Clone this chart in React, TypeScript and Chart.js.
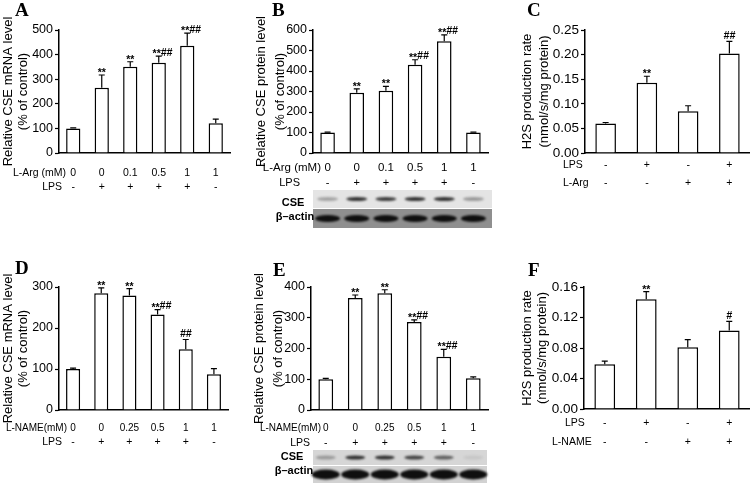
import React, { useEffect, useRef } from 'react';
import { Chart, registerables } from 'chart.js';
Chart.register(...registerables);

const FONT = "'Liberation Sans', Arial, sans-serif";
const SERIF = "'Liberation Serif', 'Times New Roman', serif";
Chart.defaults.font.family = FONT;
Chart.defaults.color = '#000';

// ---------- Panel A: CSE mRNA, L-Arg ----------
const aDose = ['0', '0', '0.1', '0.5', '1', '1'];
const aLps = ['-', '+', '+', '+', '+', '-'];
const aValues = [100, 265, 351, 367, 436, 121];
const aErrors = [2, 52, 20, 27, 51, 17];
const aStars = ['', '**', '**', '**', '**', ''];
const aHashes = ['', '', '', '##', '##', ''];

// ---------- Panel B: CSE protein, L-Arg ----------
const bDose = ['0', '0', '0.1', '0.5', '1', '1'];
const bLps = ['-', '+', '+', '+', '+', '-'];
const bValues = [100, 294, 304, 430, 545, 100];
const bErrors = [2, 19, 21, 25, 31, 2];
const bStars = ['', '**', '**', '**', '**', ''];
const bHashes = ['', '', '', '##', '##', ''];
const bCseBand = [0.3, 0.85, 0.8, 0.85, 0.85, 0.35];
const bActinBand = [1, 1, 1, 1, 1, 1];

// ---------- Panel C: H2S production, L-Arg ----------
const cLps = ['-', '+', '-', '+'];
const cLArg = ['-', '-', '+', '+'];
const cValues = [0.06, 0.143, 0.085, 0.202];
const cErrors = [0.002, 0.013, 0.011, 0.025];
const cStars = ['', '**', '', ''];
const cHashes = ['', '', '', '##'];

// ---------- Panel D: CSE mRNA, L-NAME ----------
const dDose = ['0', '0', '0.25', '0.5', '1', '1'];
const dLps = ['-', '+', '+', '+', '+', '-'];
const dValues = [100, 285, 279, 233, 148, 87];
const dErrors = [2, 13, 17, 12, 24, 14];
const dStars = ['', '**', '**', '**', '', ''];
const dHashes = ['', '', '', '##', '##', ''];

// ---------- Panel E: CSE protein, L-NAME ----------
const eDose = ['0', '0', '0.25', '0.5', '1', '1'];
const eLps = ['-', '+', '+', '+', '+', '-'];
const eValues = [100, 364, 380, 286, 173, 103];
const eErrors = [3, 10, 11, 7, 24, 5];
const eStars = ['', '**', '**', '**', '**', ''];
const eHashes = ['', '', '', '##', '##', ''];
const eCseBand = [0.3, 0.85, 0.85, 0.75, 0.6, 0.08];
const eActinBand = [1, 1, 1, 1, 1, 1];

// ---------- Panel F: H2S production, L-NAME ----------
const fLps = ['-', '+', '-', '+'];
const fLName = ['-', '-', '+', '+'];
const fValues = [0.0587, 0.144, 0.081, 0.103];
const fErrors = [0.004, 0.01, 0.01, 0.012];
const fStars = ['', '**', '', ''];
const fHashes = ['', '', '', '#'];

interface Row { header: string; values: string[]; y: number; hx: number; align: CanvasTextAlign; size: number }
interface Blot {
  x0: number; x1: number; cseY: number; cseH: number; actY: number; actH: number;
  cseBg: string; actBg: string; cseLabel: [number, number]; actLabel: [number, number];
  cse: number[]; actin: number[]; cseBandW: number; cseBandH: number; actBandW: number; actBandH: number;
}
interface Panel {
  letter: string; letterPos: [number, number];
  left: number; top: number; w: number; h: number;
  area: { l: number; t: number; r: number; b: number };
  categories: string[]; values: number[]; errors: number[]; stars: string[]; hashes: string[];
  max: number; step: number; decimals: number; tickSize: number;
  title: string[]; titleLH: number; titlePad: number;
  rows: Row[]; blot?: Blot;
}

const panels: Panel[] = [
  {
    letter: 'A', letterPos: [15, 16], left: 0, top: 0, w: 250, h: 246,
    area: { l: 59, t: 30, r: 230, b: 153 },
    categories: aDose, values: aValues, errors: aErrors, stars: aStars, hashes: aHashes,
    max: 500, step: 100, decimals: 0, tickSize: 12.5,
    title: ['Relative CSE mRNA level', '(% of control)'], titleLH: 15, titlePad: 0.5,
    rows: [
      { header: 'L-Arg (mM)', values: aDose, y: 173, hx: 66, align: 'right', size: 10.5 },
      { header: 'LPS', values: aLps, y: 187, hx: 62, align: 'right', size: 10.5 },
    ],
  },
  {
    letter: 'B', letterPos: [22, 16], left: 250, top: 0, w: 250, h: 246,
    area: { l: 63, t: 30, r: 238, b: 153 },
    categories: bDose, values: bValues, errors: bErrors, stars: bStars, hashes: bHashes,
    max: 600, step: 100, decimals: 0, tickSize: 12.5,
    title: ['Relative CSE protein level', '(% of control)'], titleLH: 19, titlePad: 1.5,
    rows: [
      { header: 'L-Arg (mM)', values: bDose, y: 168, hx: 71, align: 'right', size: 11.5 },
      { header: 'LPS', values: bLps, y: 183, hx: 50, align: 'right', size: 11 },
    ],
    blot: {
      x0: 63, x1: 242, cseY: 190, cseH: 18, actY: 209, actH: 19,
      cseBg: '#e4e4e4', actBg: '#8f8f8f', cseLabel: [43, 203], actLabel: [45, 217],
      cse: bCseBand, actin: bActinBand, cseBandW: 21, cseBandH: 4, actBandW: 25, actBandH: 7,
    },
  },
  {
    letter: 'C', letterPos: [27, 16], left: 500, top: 0, w: 250, h: 246,
    area: { l: 85, t: 30, r: 250, b: 153 },
    categories: cLps, values: cValues, errors: cErrors, stars: cStars, hashes: cHashes,
    max: 0.25, step: 0.05, decimals: 2, tickSize: 13.5,
    title: ['H2S production rate', '(nmol/s/mg protein)'], titleLH: 17, titlePad: 18.5,
    rows: [
      { header: 'LPS', values: cLps, y: 165, hx: 63, align: 'left', size: 10.5 },
      { header: 'L-Arg', values: cLArg, y: 183, hx: 63, align: 'left', size: 10.5 },
    ],
  },
  {
    letter: 'D', letterPos: [15, 274], left: 0, top: 246, w: 250, h: 246,
    area: { l: 59, t: 41, r: 228, b: 164 },
    categories: dDose, values: dValues, errors: dErrors, stars: dStars, hashes: dHashes,
    max: 300, step: 100, decimals: 0, tickSize: 12.5,
    title: ['Relative CSE mRNA level', '(% of control)'], titleLH: 15, titlePad: 0.5,
    rows: [
      { header: 'L-NAME(mM)', values: dDose, y: 182, hx: 67, align: 'right', size: 10 },
      { header: 'LPS', values: dLps, y: 196, hx: 62, align: 'right', size: 10.5 },
    ],
  },
  {
    letter: 'E', letterPos: [23, 276], left: 250, top: 246, w: 250, h: 246,
    area: { l: 61, t: 41, r: 238, b: 164 },
    categories: eDose, values: eValues, errors: eErrors, stars: eStars, hashes: eHashes,
    max: 400, step: 100, decimals: 0, tickSize: 12.5,
    title: ['Relative CSE protein level', '(% of control)'], titleLH: 19, titlePad: 0,
    rows: [
      { header: 'L-NAME(mM)', values: eDose, y: 182, hx: 71, align: 'right', size: 10 },
      { header: 'LPS', values: eLps, y: 197, hx: 60, align: 'right', size: 10.5 },
    ],
    blot: {
      x0: 63, x1: 237, cseY: 204, cseH: 15, actY: 220, actH: 17,
      cseBg: '#d6d6d6', actBg: '#d2d2d2', cseLabel: [42, 211], actLabel: [44, 225],
      cse: eCseBand, actin: eActinBand, cseBandW: 20, cseBandH: 4, actBandW: 28, actBandH: 10,
    },
  },
  {
    letter: 'F', letterPos: [28, 276], left: 500, top: 246, w: 250, h: 246,
    area: { l: 84, t: 41, r: 250, b: 163 },
    categories: fLps, values: fValues, errors: fErrors, stars: fStars, hashes: fHashes,
    max: 0.16, step: 0.04, decimals: 2, tickSize: 13.5,
    title: ['H2S production rate', '(nmol/s/mg protein)'], titleLH: 15, titlePad: 19.5,
    rows: [
      { header: 'LPS', values: fLps, y: 177, hx: 65, align: 'left', size: 10.5 },
      { header: 'L-NAME', values: fLName, y: 196, hx: 52, align: 'left', size: 10.5 },
    ],
  },
];

function makeDecor(p: Panel) {
  return {
    id: 'decor' + p.letter,
    afterDatasetsDraw(chart: any) {
      const ctx: CanvasRenderingContext2D = chart.ctx;
      const meta = chart.getDatasetMeta(0);
      const ys = chart.scales.y;
      const xs = chart.scales.x;
      ctx.save();
      ctx.strokeStyle = '#000';
      ctx.fillStyle = '#000';
      ctx.lineWidth = 1.2;
      p.values.forEach((v, i) => {
        const cx = meta.data[i].x;
        const top = ys.getPixelForValue(v);
        const et = ys.getPixelForValue(v + p.errors[i]);
        ctx.beginPath();
        ctx.moveTo(cx, top);
        ctx.lineTo(cx, et);
        ctx.moveTo(cx - 3, et);
        ctx.lineTo(cx + 3, et);
        ctx.stroke();
        const s = p.stars[i];
        const hsh = p.hashes[i];
        ctx.textBaseline = 'alphabetic';
        if (s && hsh) {
          ctx.font = `bold 10.5px ${FONT}`;
          ctx.textAlign = 'right';
          ctx.fillText(s, cx + 2, et + 1);
          ctx.font = `italic bold 10.5px ${FONT}`;
          ctx.textAlign = 'left';
          ctx.fillText(hsh, cx + 2, et - 0.5);
        } else if (s) {
          ctx.font = `bold 10.5px ${FONT}`;
          ctx.textAlign = 'center';
          ctx.fillText(s, cx, et + 1);
        } else if (hsh) {
          ctx.font = `italic bold 10.5px ${FONT}`;
          ctx.textAlign = 'center';
          ctx.fillText(hsh, cx, et - 2);
        }
      });
      // rows of condition labels
      p.rows.forEach((r) => {
        ctx.font = `${r.size}px ${FONT}`;
        ctx.textBaseline = 'middle';
        ctx.textAlign = r.align;
        ctx.fillText(r.header, r.hx, r.y);
        ctx.textAlign = 'center';
        r.values.forEach((t, i) => {
          ctx.fillText(t, xs.getPixelForValue(i), r.y);
        });
      });
      // panel letter
      ctx.font = `bold 19px ${SERIF}`;
      ctx.textAlign = 'left';
      ctx.textBaseline = 'alphabetic';
      ctx.fillText(p.letter, p.letterPos[0], p.letterPos[1] - p.top);
      // western blot
      const b = p.blot;
      if (b) {
        ctx.fillStyle = b.cseBg;
        ctx.fillRect(b.x0, b.cseY, b.x1 - b.x0, b.cseH);
        ctx.fillStyle = b.actBg;
        ctx.fillRect(b.x0, b.actY, b.x1 - b.x0, b.actH);
        ctx.filter = 'blur(0.8px)';
        b.cse.forEach((k, i) => {
          const cx = xs.getPixelForValue(i);
          ctx.fillStyle = `rgba(20,20,20,${k})`;
          ctx.beginPath();
          ctx.ellipse(cx, b.cseY + b.cseH / 2, b.cseBandW / 2, b.cseBandH / 2, 0, 0, Math.PI * 2);
          ctx.fill();
        });
        b.actin.forEach((k, i) => {
          const cx = xs.getPixelForValue(i);
          ctx.fillStyle = `rgba(15,15,15,${k})`;
          ctx.beginPath();
          ctx.ellipse(cx, b.actY + b.actH / 2, b.actBandW / 2, b.actBandH / 2, 0, 0, Math.PI * 2);
          ctx.fill();
        });
        ctx.filter = 'none';
        ctx.fillStyle = '#000';
        ctx.font = `bold 11px ${FONT}`;
        ctx.textAlign = 'center';
        ctx.textBaseline = 'middle';
        ctx.fillText('CSE', b.cseLabel[0], b.cseLabel[1]);
        ctx.fillText('β–actin', b.actLabel[0], b.actLabel[1]);
      }
      ctx.restore();
    },
  };
}

function PanelChart({ p }: { p: Panel }) {
  const ref = useRef<HTMLCanvasElement>(null);
  useEffect(() => {
    const canvas = ref.current!;
    const chart = new Chart(canvas, {
      type: 'bar',
      data: {
        labels: p.categories,
        datasets: [{
          data: p.values,
          backgroundColor: '#ffffff',
          borderColor: '#000000',
          borderWidth: 1.5,
          categoryPercentage: 1,
          barPercentage: 0.5,
        }],
      },
      options: {
        responsive: false,
        maintainAspectRatio: false,
        animation: false,
        devicePixelRatio: 1,
        layout: { padding: { left: 0, top: p.area.t, right: p.w - p.area.r, bottom: 0 } },
        plugins: { legend: { display: false }, tooltip: { enabled: false } },
        scales: {
          x: {
            type: 'category',
            offset: true,
            grid: { display: false },
            ticks: { display: false },
            border: { display: true, color: '#000', width: 1.5 },
            afterFit: (s: any) => { s.height = p.h - p.area.b; },
          },
          y: {
            min: 0,
            max: p.max,
            ticks: {
              stepSize: p.step,
              color: '#000',
              font: { size: p.tickSize, family: FONT },
              padding: 2,
              callback: (v: any) => Number(v).toFixed(p.decimals),
            },
            grid: { display: true, drawOnChartArea: false, drawTicks: true, tickLength: 4, tickColor: '#000', tickWidth: 1.2, color: '#000' },
            border: { display: true, color: '#000', width: 1.5 },
            title: {
              display: true,
              text: p.title,
              color: '#000',
              font: { size: 13, family: FONT, lineHeight: p.titleLH / 13 },
              padding: { top: p.titlePad, bottom: 0 },
            },
            afterFit: (s: any) => { s.width = p.area.l; },
          },
        },
      } as any,
      plugins: [makeDecor(p)],
    });
    return () => chart.destroy();
  }, [p]);
  return (
    <canvas
      ref={ref}
      width={p.w}
      height={p.h}
      style={{ position: 'absolute', left: p.left, top: p.top, width: p.w, height: p.h }}
    />
  );
}

export default function App() {
  useEffect(() => {
    document.body.style.margin = '0';
    document.body.style.background = '#fff';
  }, []);
  return (
    <div style={{ position: 'relative', width: 750, height: 492, background: '#fff', overflow: 'hidden' }}>
      {panels.map((p) => <PanelChart key={p.letter} p={p} />)}
    </div>
  );
}
